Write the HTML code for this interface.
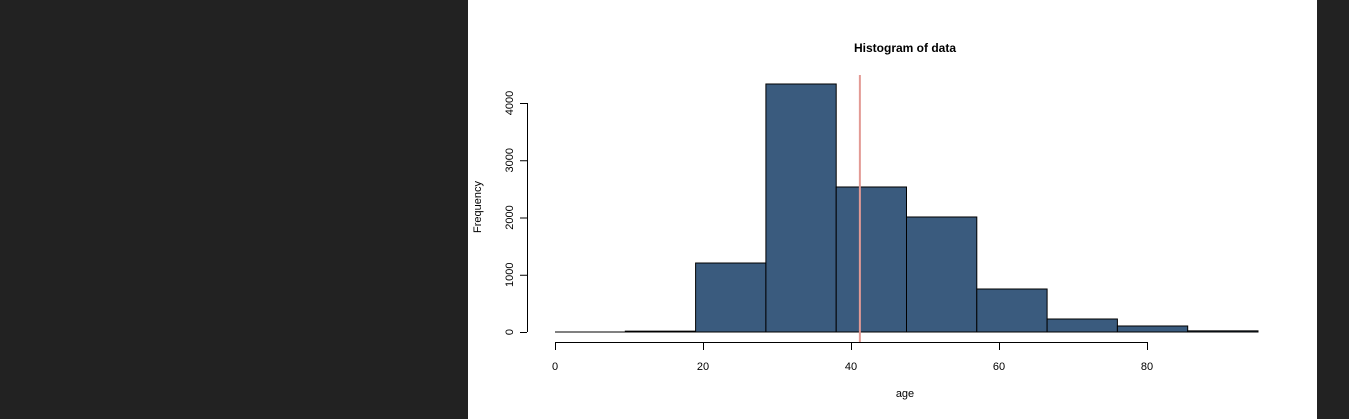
<!DOCTYPE html>
<html><head><meta charset="utf-8"><style>
html,body{margin:0;padding:0;background:#222;}
svg{display:block;}
text{font-family:"Liberation Sans",sans-serif;fill:#000;}
</style></head><body>
<svg width="1349" height="419">
<rect x="0" y="0" width="1349" height="419" fill="#222"/>
<rect x="468" y="0" width="849" height="419" fill="#fff"/>
<text x="905" y="52" text-anchor="middle" font-size="12" font-weight="bold">Histogram of data</text>
<text x="905" y="397" text-anchor="middle" font-size="11">age</text>
<text transform="translate(481,207) rotate(-90)" text-anchor="middle" font-size="11">Frequency</text>
<g id="bars"></g>
<g id="xaxis"></g>
<g id="yaxis"></g>
<g id="ref"></g>
</svg>
<script>
const breaks = [0,9.5,19,28.5,38,47.5,57,66.5,76,85.5,95];
const counts = [0,15,1205,4332,2533,2009,751,227,105,20];
const xTicks = [0,20,40,60,80];
const yTicks = [0,1000,2000,3000,4000];
const refValue = [41.2];
const NS="http://www.w3.org/2000/svg";
const sx=v=>555+v*7.4;
const sy=v=>332-v*0.05725;
function mk(tag,attrs,parent){const e=document.createElementNS(NS,tag);for(const k in attrs)e.setAttribute(k,attrs[k]);parent.appendChild(e);return e;}
const gb=document.getElementById('bars');
for(let i=0;i<counts.length;i++){
  const x0=sx(breaks[i]),x1=sx(breaks[i+1]),y=sy(counts[i]);
  let r;
  if(332-y<0.5){
    r=mk('line',{x1:x0,x2:x1,y1:332,y2:332,stroke:'#000','stroke-width':1},gb);
  } else {
    r=mk('rect',{x:x0,y:y,width:x1-x0,height:332-y,fill:'#3a5b7e',stroke:'#000','stroke-width':1},gb);
  }
  
  
}
const gx=document.getElementById('xaxis');
const xl=mk('line',{x1:sx(xTicks[0]),x2:sx(xTicks[xTicks.length-1]),y1:342.5,y2:342.5,stroke:'#000'},gx);


xTicks.forEach(t=>{
  mk('line',{x1:sx(t)+0.5,x2:sx(t)+0.5,y1:342,y2:350,stroke:'#000'},gx);
  const tx=mk('text',{x:sx(t),y:370,'text-anchor':'middle','font-size':11},gx);
  tx.textContent=t;
  
  
});
const gy=document.getElementById('yaxis');
const yl=mk('line',{x1:527.5,x2:527.5,y1:sy(yTicks[0]),y2:sy(yTicks[yTicks.length-1]),stroke:'#000'},gy);


yTicks.forEach(t=>{
  mk('line',{x1:520,x2:527,y1:sy(t)+0.5,y2:sy(t)+0.5,stroke:'#000'},gy);
  const tx=mk('text',{transform:`translate(513,${sy(t)}) rotate(-90)`,'text-anchor':'middle','font-size':11},gy);
  tx.textContent=t;
  
  
});
const gr=document.getElementById('ref');
refValue.forEach(v=>{
  const l=mk('line',{x1:sx(v),x2:sx(v),y1:75,y2:342,stroke:'#e39a94','stroke-width':2},gr);
  
  
});
</script>
</body></html>
